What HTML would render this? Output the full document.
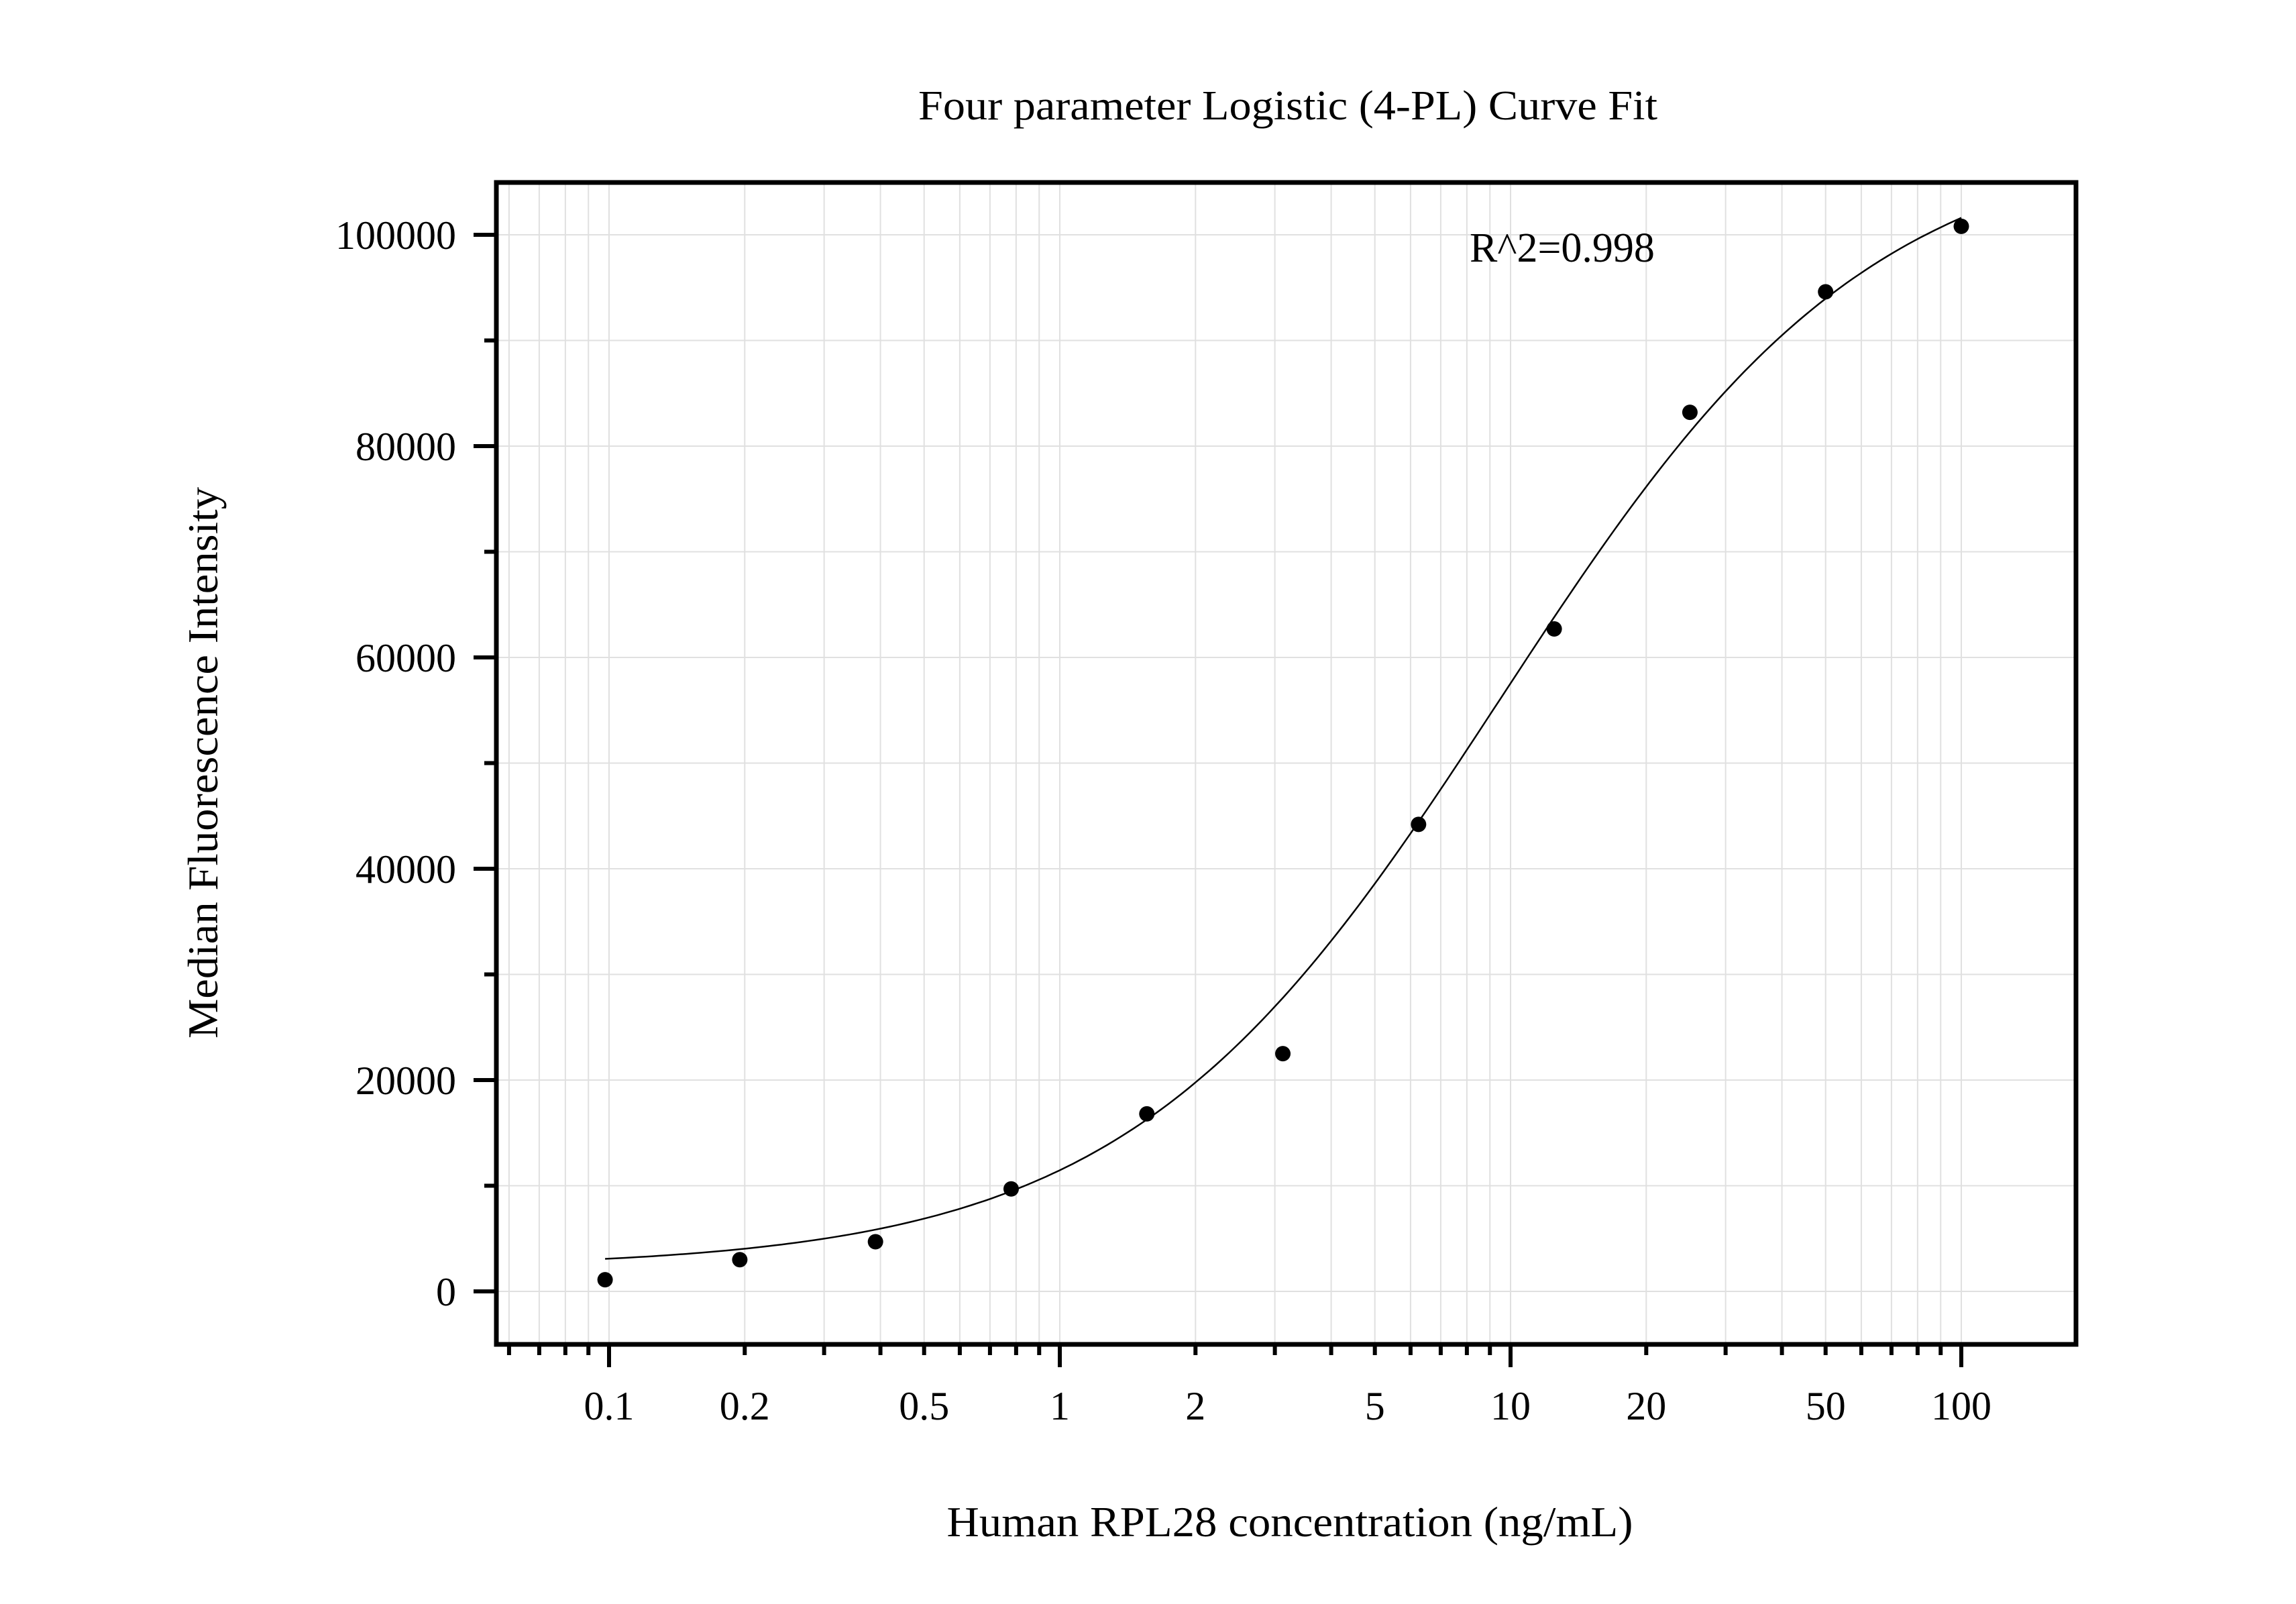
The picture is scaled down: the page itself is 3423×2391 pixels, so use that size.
<!DOCTYPE html>
<html><head><meta charset="utf-8"><style>
html,body{margin:0;padding:0;background:#fff;}
svg{display:block;}
text{font-family:"Liberation Serif",serif;fill:#000;}
</style></head><body>
<svg id="chart" width="3423" height="2391" viewBox="0 0 3423 2391" xmlns="http://www.w3.org/2000/svg">
<rect width="3423" height="2391" fill="#fff"/>
<g id="grid"></g>
<g id="ticks"></g>
<path id="curve" fill="none" stroke="#000" stroke-width="2.5"/>
<g id="points"></g>
<rect x="740" y="272" width="2355" height="1732" fill="none" stroke="#000" stroke-width="7"/>
<text x="1920" y="178" font-size="62" text-anchor="middle" textLength="1102" lengthAdjust="spacingAndGlyphs">Four parameter Logistic (4-PL) Curve Fit</text>
<text x="2191" y="390" font-size="62">R^2=0.998</text>
<text x="1923" y="2290" font-size="64" text-anchor="middle" textLength="1023" lengthAdjust="spacingAndGlyphs">Human RPL28 concentration (ng/mL)</text>
<text transform="translate(324,1137) rotate(-90)" font-size="64" text-anchor="middle" textLength="822" lengthAdjust="spacingAndGlyphs">Median Fluorescence Intensity</text>
<g id="labels"></g>
</svg>
<script>
const xValues = [0.098, 0.195, 0.39, 0.78, 1.56, 3.125, 6.25, 12.5, 25, 50, 100];
const yValues = [1100, 3000, 4700, 9700, 16800, 22500, 44200, 62700, 83200, 94600, 100800];
const fitParams = [2200, 110000, 9.5, 1.05]; // bottom, top, EC50, hill
const xTickValues = [0.1, 0.2, 0.5, 1, 2, 5, 10, 20, 50, 100];
const xTickLabels = ["0.1", "0.2", "0.5", "1", "2", "5", "10", "20", "50", "100"];
const yTickValues = [0, 20000, 40000, 60000, 80000, 100000];
const yTickLabels = ["0", "20000", "40000", "60000", "80000", "100000"];

const NS = "http://www.w3.org/2000/svg";
const X0 = 740, X1 = 3095, Y0 = 272, Y1 = 2004;
function xs(v){ return 1580 + 672 * Math.log10(v); }
function ys(v){ return 1925 - 1575 * v / 100000; }
function mk(tag, attrs, parent){
  const e = document.createElementNS(NS, tag);
  for (const k in attrs) e.setAttribute(k, attrs[k]);
  parent.appendChild(e); return e;
}
const grid = document.getElementById('grid');
const ticks = document.getElementById('ticks');
const labels = document.getElementById('labels');

// x minor/major grid
for (let d = -2; d <= 2; d++) {
  for (let m = 1; m <= 9; m++) {
    const v = m * Math.pow(10, d);
    const px = xs(v);
    if (px <= X0 + 3 || px >= X1 - 3) continue;
    const g = mk('line', {x1: px, x2: px, y1: Y0, y2: Y1, stroke: '#e0e0e0', 'stroke-width': 2}, grid);
    
    
    const t = mk('line', {x1: px, x2: px, y1: Y1, y2: m === 1 ? 2038 : 2020, stroke: '#000', 'stroke-width': 6}, ticks);
    
    
  }
}
// y grid & ticks
for (let v = 0; v <= 100000; v += 10000) {
  const py = ys(v);
  const g = mk('line', {x1: X0, x2: X1, y1: py, y2: py, stroke: '#e0e0e0', 'stroke-width': 2}, grid);
  
  
  const major = v % 20000 === 0;
  const t = mk('line', {x1: major ? 706 : 722, x2: X0, y1: py, y2: py, stroke: '#000', 'stroke-width': 6}, ticks);
  
  
}
xTickValues.forEach((v, i) => {
  const t = mk('text', {x: xs(v), y: 2116, 'font-size': 60, 'text-anchor': 'middle'}, labels);
  
  
  t.textContent = xTickLabels[i];
});
yTickValues.forEach((v, i) => {
  const t = mk('text', {x: 680, y: ys(v) + 21, 'font-size': 60, 'text-anchor': 'end'}, labels);
  
  
  t.textContent = yTickLabels[i];
});
// fit curve
function fit(x){
  const [A, D, C, B] = fitParams;
  return A + (D - A) / (1 + Math.pow(C / x, B));
}
let dstr = '';
const lx0 = Math.log10(xValues[0]), lx1 = Math.log10(xValues[xValues.length - 1]);
for (let i = 0; i <= 200; i++) {
  const x = Math.pow(10, lx0 + (lx1 - lx0) * i / 200);
  dstr += (i ? 'L' : 'M') + xs(x).toFixed(1) + ' ' + ys(fit(x)).toFixed(1);
}
document.getElementById('curve').setAttribute('d', dstr);
// points
const pts = document.getElementById('points');
xValues.forEach((x, i) => {
  const c = mk('circle', {cx: xs(x), cy: ys(yValues[i]), r: 11.5, fill: '#000'}, pts);
  
  
});
</script>
</body></html>
